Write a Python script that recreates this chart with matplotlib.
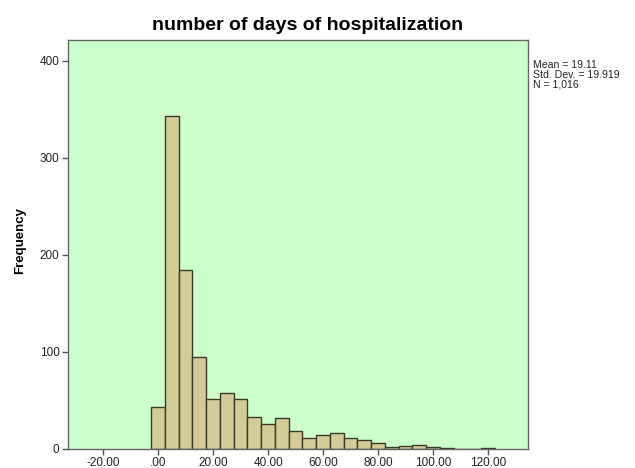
import numpy as np
import matplotlib.pyplot as plt

plt.rcParams['font.family'] = ['Liberation Sans', 'DejaVu Sans']

# histogram of hospital stay, bins of 5 days centred on multiples of 5
bin_centers = np.arange(0, 125, 5)
counts = [43, 343, 184, 95, 52, 58, 51, 33, 26, 32, 19, 11, 14, 16, 11, 9,
          6, 2, 3, 4, 2, 1, 0, 0, 1]
bin_width = 5
xticks = [-20, 0, 20, 40, 60, 80, 100, 120]
yticks = [0, 100, 200, 300, 400]
stats_text = "Mean = 19.11\nStd. Dev. = 19.919\nN = 1,016"

fig = plt.figure(figsize=(6.35, 4.68), dpi=100)
ax = fig.add_axes([0.107, 0.0406, 0.7244, 0.874])
ax.set_facecolor('#ccffcc')

ax.bar(bin_centers, counts, width=bin_width, color='#d4cc98',
       edgecolor='#3a3a2a', linewidth=1.0)

ax.set_xlim(-32.8, 134.5)
ax.set_ylim(0, 421.3)
ax.set_xticks(xticks)
ax.set_xticklabels(["%.2f" % v if v != 0 else ".00" for v in xticks])
ax.set_yticks(yticks)
ax.tick_params(axis='both', direction='out', length=4, width=1,
               color='#555555', labelsize=8.5, labelcolor='#222222', pad=2)

for s in ax.spines.values():
    s.set_color('#666666')
    s.set_linewidth(1)

fig.text(0.0315, 0.487, "Frequency", rotation=90, ha='center', va='center',
         fontsize=9.5, fontweight='bold')
fig.text(0.485, 0.936, "number of days of hospitalization", ha='center',
         va='baseline', fontsize=14, fontweight='bold')
fig.text(0.839, 0.872, stats_text, ha='left', va='top', fontsize=7.6,
         color='#222222', linespacing=0.95)

fig.savefig("out.png", dpi=100)
